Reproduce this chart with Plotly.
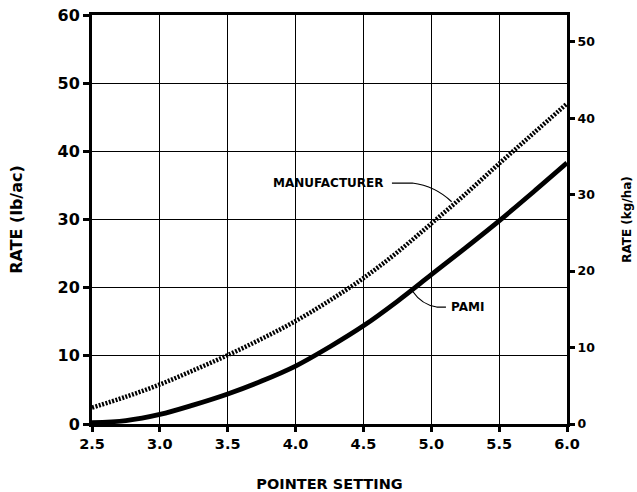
import plotly.graph_objects as go

pointer = [2.5, 2.75, 3.0, 3.25, 3.5, 3.75, 4.0, 4.25, 4.5, 4.75, 5.0, 5.25, 5.5, 5.75, 6.0]
manufacturer = [2.4, 4.0, 5.8, 7.9, 10.1, 12.5, 15.1, 18.1, 21.4, 25.2, 29.4, 33.7, 38.2, 42.6, 47.0]
pami = [0.2, 0.5, 1.4, 2.8, 4.4, 6.3, 8.5, 11.3, 14.4, 18.0, 21.9, 25.8, 29.8, 34.0, 38.3]

x_ticks = [2.5, 3.0, 3.5, 4.0, 4.5, 5.0, 5.5, 6.0]
left_ticks = [0, 10, 20, 30, 40, 50, 60]
right_ticks = [0, 10, 20, 30, 40, 50]

FONT = "DejaVu Sans"

fig = go.Figure()
fig.add_trace(go.Scatter(x=pointer, y=manufacturer, mode="lines", line=dict(color="black", width=4.5, dash="2px,1.5px", shape="spline"), showlegend=False))
fig.add_trace(go.Scatter(x=pointer, y=pami, mode="lines", line=dict(color="black", width=4.8, shape="spline"), showlegend=False))
# invisible trace to activate right axis
fig.add_trace(go.Scatter(x=[2.5], y=[0], yaxis="y2", mode="markers", marker=dict(opacity=0), showlegend=False, hoverinfo="skip"))

fig.add_annotation(x=4.243, y=35.35, text="<b>MANUFACTURER</b>", showarrow=False, font=dict(family=FONT, size=12, color="black"))
fig.add_annotation(x=5.267, y=17.16, text="<b>PAMI</b>", showarrow=False, font=dict(family=FONT, size=12, color="black"))
fig.add_shape(type="path", path="M 4.71,35.35 L 4.86,35.35 Q 5.03,34.9 5.15,32.6", line=dict(color="black", width=1.2))
fig.add_shape(type="path", path="M 5.108,17.16 L 5.04,17.16 Q 4.93,17.5 4.865,19.4", line=dict(color="black", width=1.2))

fig.update_layout(
    width=637, height=492,
    margin=dict(l=92, r=70, t=15, b=68),
    paper_bgcolor="white", plot_bgcolor="white",
    font=dict(family=FONT, color="black"),
    xaxis=dict(range=[2.5, 6.0], tickvals=x_ticks, ticktext=[f"{v:.1f}" for v in x_ticks],
               showgrid=True, gridcolor="black", gridwidth=1.2, automargin=False,
               showline=True, linecolor="black", linewidth=3, mirror=True,
               ticks="outside", ticklen=5, tickwidth=2.5, tickcolor="black",
               ticklabeloverflow="allow",
               tickfont=dict(family=FONT, size=14.5, color="black", weight="bold"),
               title=dict(text="<b>POINTER SETTING</b>", font=dict(family=FONT, size=14.5), standoff=32),
               zeroline=False),
    yaxis=dict(range=[0, 60], tickvals=left_ticks, automargin=False,
               showgrid=True, gridcolor="black", gridwidth=1.2,
               showline=True, linecolor="black", linewidth=3, mirror=True,
               ticks="outside", ticklen=6, tickwidth=2.5, tickcolor="black",
               ticklabeloverflow="allow",
               tickfont=dict(family=FONT, size=16, color="black", weight="bold"),
               title=dict(text="<b>RATE (lb/ac)</b>", font=dict(family=FONT, size=16), standoff=31),
               zeroline=False),
    yaxis2=dict(range=[0, 53.5], tickvals=right_ticks, overlaying="y", side="right", automargin=False,
                showgrid=False, zeroline=False, showline=False,
                ticks="outside", ticklen=7, tickwidth=2.5, tickcolor="black",
                ticklabeloverflow="allow",
                tickfont=dict(family=FONT, size=12.5, color="black", weight="bold"),
                title=dict(text="<b>RATE (kg/ha)</b>", font=dict(family=FONT, size=12), standoff=28)),
)

fig.write_html("out.html", config={"displayModeBar": False}, post_script="document.body.style.margin='0px';")
